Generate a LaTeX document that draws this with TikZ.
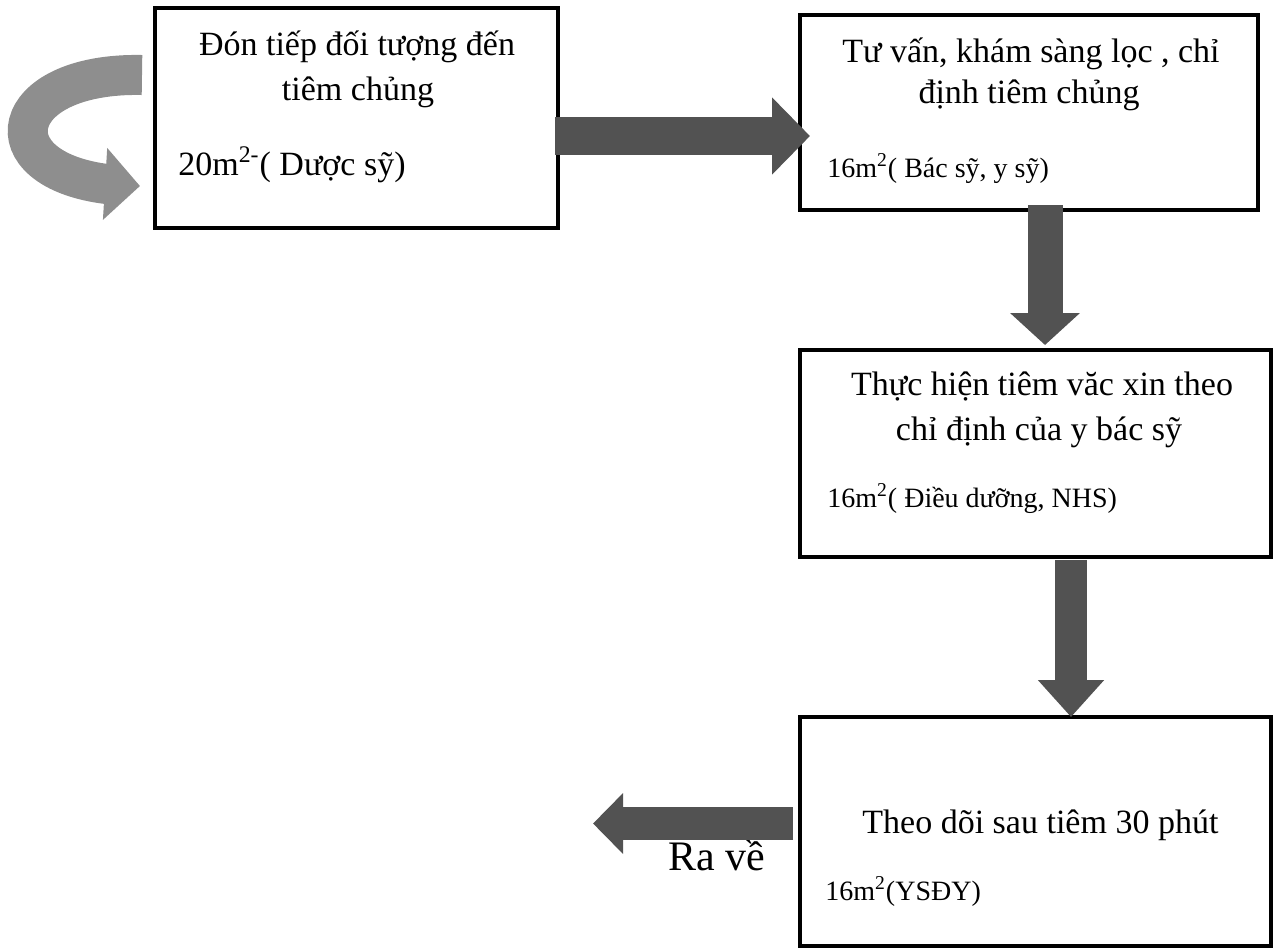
\documentclass[tikz,border=0pt]{standalone}
\usepackage{fontspec}
\setmainfont{Liberation Serif}
\usepackage{tikz}
\usetikzlibrary{arrows.meta,positioning,calc,bending}
\definecolor{cArrow}{HTML}{525252}
\definecolor{cTurn}{HTML}{8E8E8E}
\tikzset{
  box/.style   ={draw, line width=2pt, inner sep=0pt, fill=white},
  ttl/.style   ={inner sep=0pt, font=\fontsize{17}{20}\selectfont},
  sub/.style   ={inner sep=0pt, font=\fontsize{14}{17}\selectfont, anchor=base west},
  bigarr/.style={line width=#1, draw=cArrow},
  turnarr/.style={line width=#1, draw=cTurn},
}

\begin{document}
\begin{tikzpicture}[x=0.5pt, y=-0.5pt]
  \useasboundingbox (0,0) rectangle (1273,950);
  % boxes
  \node[box, minimum width=201.5pt, minimum height=110pt]   (b1) at (356.5,118)   {};
  \node[box, minimum width=229pt,   minimum height=97.5pt]  (b2) at (1029,112.5)  {};
  \node[box, minimum width=235.5pt, minimum height=103.5pt] (b3) at (1035.5,453.5) {};
  \node[box, minimum width=235.5pt, minimum height=114.5pt] (b4) at (1035.5,831.5) {};
  % texts
  \node[ttl, anchor=base] (t1a) at (357,55)  {Đón tiếp đối tượng đến};
  \node[ttl, anchor=base] (t1b) at (358,100) {tiêm chủng};
  \node[ttl, anchor=base west] (s1) at (178,175) {20m\textsuperscript{2-}( Dược sỹ)};
  \node[ttl, anchor=base] (t2a) at (1031,62)  {Tư vấn, khám sàng lọc , chỉ};
  \node[ttl, anchor=base] (t2b) at (1029,103) {định tiêm chủng};
  \node[sub] (s2) at (827,177) {16m\textsuperscript{2}( Bác sỹ, y sỹ)};
  \node[ttl, anchor=base] (t3a) at (1042,395) {Thực hiện tiêm văc xin theo};
  \node[ttl, anchor=base] (t3b) at (1039,440) {chỉ định của y bác sỹ};
  \node[sub] (s3) at (827,507) {16m\textsuperscript{2}( Điều dưỡng, NHS)};
  \node[ttl, anchor=base west] (t4) at (862,833) {Theo dõi sau tiêm 30 phút};
  \node[sub] (s4) at (825,900) {16m\textsuperscript{2}(YSĐY)};
  \node[inner sep=0pt, anchor=base west, font=\fontsize{21}{25}\selectfont] (out) at (668,870) {Ra về};
  % free ends
  \coordinate (tail) at (142,75);
  \coordinate (exit) at (593,823.5);
  % arrows
  \draw[turnarr=20pt, -{Triangle[length=17.5pt,width=35pt]}]
    (tail) .. controls (-5,72) and (-15,186) .. ($(b1.west)+(-13,68)$);
  \draw[bigarr=19pt, -{Triangle[length=19pt,width=37.5pt]}]
    ($(b1.east)+(-5,18)$) -- ($(b2.west)+(12,23.5)$);
  \draw[bigarr=17.5pt, -{Triangle[length=16pt,width=34pt]}]
    ($(b2.south)+(16,-7)$) -- ($(b3.north -| b2.south)+(16,-3)$);
  \draw[bigarr=16pt, -{Triangle[length=18.5pt,width=32pt]}]
    ($(b3.south)+(35.5,1)$) -- ($(b4.north)+(35.5,2)$);
  \draw[bigarr=16.5pt, -{Triangle[length=15pt,width=29.5pt]}]
    ($(b4.west)+(-5,-8)$) -- (exit);
\end{tikzpicture}
\end{document}
